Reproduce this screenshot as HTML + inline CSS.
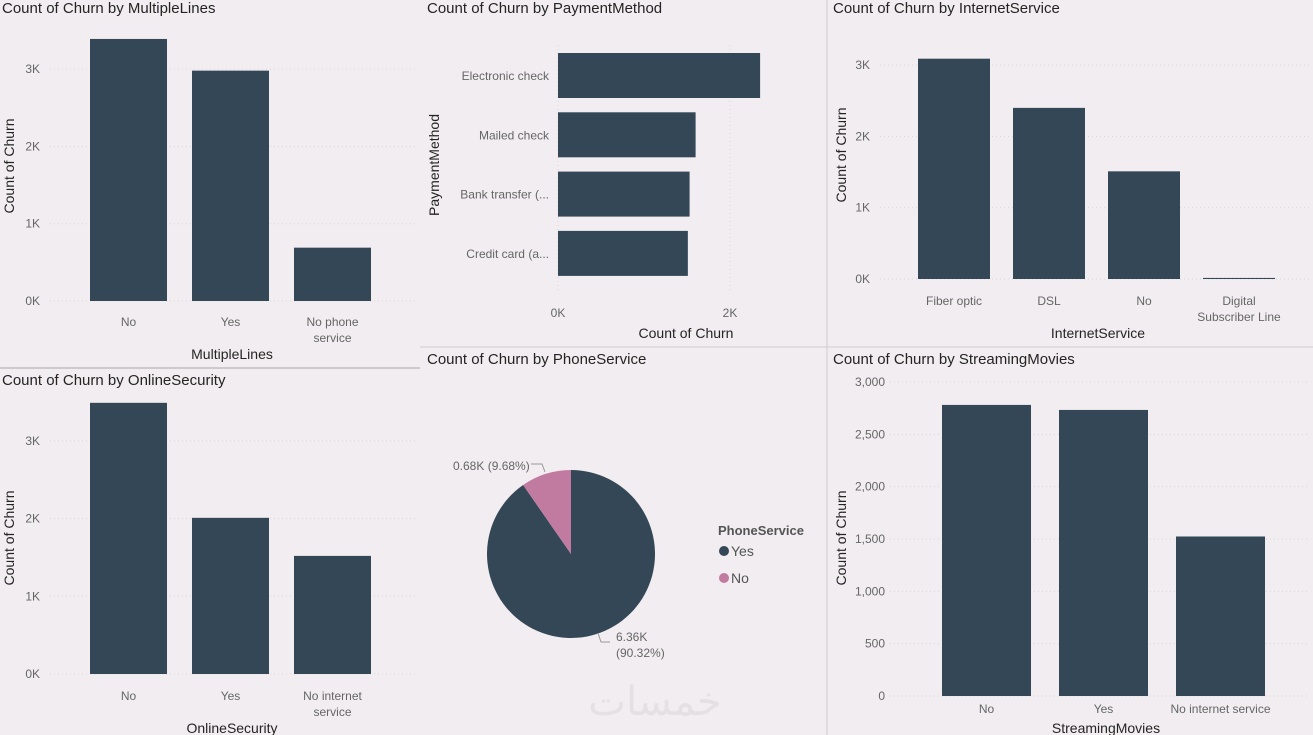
<!DOCTYPE html>
<html><head><meta charset="utf-8">
<style>
html,body{margin:0;padding:0;background:#f1edf0;}
svg{display:block;font-family:"Liberation Sans","DejaVu Sans",sans-serif;}
.t{font-size:15px;fill:#252423;}
.tk{font-size:12px;fill:#666;}
.ax{font-size:14px;fill:#252423;}
</style></head>
<body>
<svg id="s" width="1313" height="735">
<rect width="1313" height="735" fill="#f1edf0"/>
<line x1="827" y1="0" x2="827" y2="735" stroke="#d0cdd0"/>
<line x1="420" y1="347" x2="1313" y2="347" stroke="#d0cdd0"/>
<line x1="0" y1="368" x2="420" y2="368" stroke="#a9a7a9"/>
<text x="2" y="13" class="t">Count of Churn by MultipleLines</text>
<text x="427" y="13" class="t">Count of Churn by PaymentMethod</text>
<text x="833" y="13" class="t">Count of Churn by InternetService</text>
<text x="2" y="385" class="t">Count of Churn by OnlineSecurity</text>
<text x="427" y="364" class="t">Count of Churn by PhoneService</text>
<text x="833" y="364" class="t">Count of Churn by StreamingMovies</text>
<text x="655" y="715" font-size="40" fill="#e4e0e3" text-anchor="middle" font-family="'DejaVu Sans',sans-serif">خمسات</text>
</svg>
<script>
const mlCats=["No","Yes","No phone|service"];
const mlVals=[3390,2980,690];
const pmCats=["Electronic check","Mailed check","Bank transfer (...","Credit card (a..."];
const pmVals=[2350,1600,1530,1510];
const isCats=["Fiber optic","DSL","No","Digital|Subscriber Line"];
const isVals=[3090,2400,1510,15];
const osCats=["No","Yes","No internet|service"];
const osVals=[3490,2010,1520];
const smCats=["No","Yes","No internet service"];
const smVals=[2781,2733,1524];
const kTicks=[0,1000,2000,3000];
const kLabels=["0K","1K","2K","3K"];
const smTicks=[0,500,1000,1500,2000,2500,3000];
const smLabels=["0","500","1,000","1,500","2,000","2,500","3,000"];
const pmTicks=[0,2000];
const pmLabels=["0K","2K"];
const psCats=["Yes","No"];
const psVals=[6360,680];
const psLabels=["6.36K|(90.32%)","0.68K (9.68%)"];

const S=document.getElementById('s');
const NS="http://www.w3.org/2000/svg";
function el(tag,attrs,txt){const e=document.createElementNS(NS,tag);for(const k in attrs)e.setAttribute(k,attrs[k]);if(txt!==undefined)e.textContent=txt;S.appendChild(e);return e;}
function mtext(x,y,str,cls,anchor,name){const parts=str.split('|');parts.forEach((p,i)=>{const t=el('text',{x:x,y:y+i*16,class:cls,'text-anchor':anchor},p);

});}

function colChart(o){
  const y=v=>o.y0-(v-0)*o.ppu;
  o.ticks.forEach((tv,i)=>{
    const g=el('line',{x1:o.gx1,x2:o.gx2,y1:y(tv),y2:y(tv),stroke:'#d8d5d8','stroke-dasharray':'1,3'});
    
    
    const t=el('text',{x:o.lx,y:y(tv)+4,class:'tk','text-anchor':'end'},o.labels[i]);
    
    
  });
  o.cats.forEach((c,i)=>{
    const x=o.x0+i*o.step;
    const r=el('rect',{x:x,y:y(o.vals[i]),width:o.bw,height:o.y0-y(o.vals[i]),fill:'#344756'});
    
    
    mtext(x+o.bw/2,o.cy,c,'tk','middle','x-tick-label');
  });
  const xt=el('text',{x:o.tx,y:o.ty,class:'ax','text-anchor':'middle'},o.xtitle);
  
  
  const yt=el('text',{x:0,y:0,class:'ax','text-anchor':'middle',transform:`translate(${o.yx},${o.yy}) rotate(-90)`},'Count of Churn');
  
  
}
colChart({cats:mlCats,vals:mlVals,ticks:kTicks,labels:kLabels,y0:301,ppu:77.3/1000,x0:90,step:102,bw:77,gx1:50,gx2:418,lx:40,cy:326,tx:232,ty:359,xtitle:'MultipleLines',yx:14,yy:166});
colChart({cats:osCats,vals:osVals,ticks:kTicks,labels:kLabels,y0:674,ppu:77.7/1000,x0:90,step:102,bw:77,gx1:50,gx2:418,lx:40,cy:700,tx:232,ty:733,xtitle:'OnlineSecurity',yx:14,yy:538});
colChart({cats:isCats,vals:isVals,ticks:kTicks,labels:kLabels,y0:279,ppu:71.3/1000,x0:918,step:95,bw:72,gx1:880,gx2:1310,lx:870,cy:305,tx:1098,ty:338,xtitle:'InternetService',yx:846,yy:155});
colChart({cats:smCats,vals:smVals,ticks:smTicks,labels:smLabels,y0:696,ppu:314/3000,x0:942,step:117,bw:89,gx1:890,gx2:1310,lx:885,cy:713,tx:1106,ty:733,xtitle:'StreamingMovies',yx:846,yy:538});

// horizontal bar chart
(function(){
  const x=v=>558+v*0.086;
  pmTicks.forEach((tv,i)=>{
    const g=el('line',{x1:x(tv),x2:x(tv),y1:45,y2:290,stroke:'#d8d5d8','stroke-dasharray':'1,3'});
    
    
    const t=el('text',{x:x(tv),y:317,class:'tk','text-anchor':'middle'},pmLabels[i]);
    
    
  });
  pmCats.forEach((c,i)=>{
    const yy=53+i*59.3;
    const r=el('rect',{x:558,y:yy,width:x(pmVals[i])-558,height:45,fill:'#344756'});
    
    
    const t=el('text',{x:549,y:yy+27,class:'tk','text-anchor':'end'},c);
    
    
  });
  const xt=el('text',{x:686,y:338,class:'ax','text-anchor':'middle'},'Count of Churn');
  
  
  const yt=el('text',{x:0,y:0,class:'ax','text-anchor':'middle',transform:'translate(439,165) rotate(-90)'},'PaymentMethod');
  
  
})();

// pie
(function(){
  const cx=571,cy=554,r=84;
  const tot=psVals.reduce((a,b)=>a+b,0);
  const cols=['#344756','#c27ba0'];
  let a0=0;
  psVals.forEach((v,i)=>{
    const a1=a0+v/tot*2*Math.PI;
    const p=(a)=>[cx+r*Math.sin(a),cy-r*Math.cos(a)];
    const [x0,y0]=p(a0),[x1,y1]=p(a1);
    const large=(a1-a0)>Math.PI?1:0;
    const s=el('path',{d:`M${cx},${cy} L${x0},${y0} A${r},${r} 0 ${large} 1 ${x1},${y1} Z`,fill:cols[i]});
    
    
    a0=a1;
  });
  el('polyline',{points:'531,464 542,464 545,472',fill:'none',stroke:'#999'});
  el('polyline',{points:'598,633 601,642 610,642',fill:'none',stroke:'#999'});
  const l1=el('text',{x:453,y:470,class:'tk'},psLabels[1]);
  
  
  mtext(616,641,psLabels[0],'tk','start','pie-label-yes');
  const lt=el('text',{x:718,y:535,'font-size':'13','font-weight':'bold',fill:'#555'},'PhoneService');
  
  
  psCats.forEach((c,i)=>{
    const d=el('circle',{cx:724,cy:551+i*27,r:5,fill:cols[i]});
    
    
    const t=el('text',{x:731,y:556+i*27,'font-size':'14',fill:'#555'},c);
    
    
  });
})();
</script>
</body></html>
